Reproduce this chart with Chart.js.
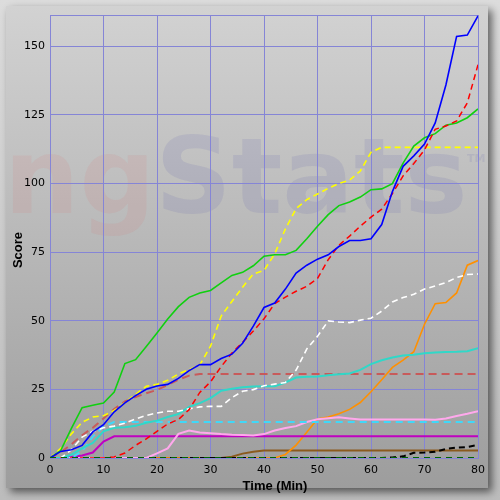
<!DOCTYPE html>
<html>
<head>
<meta charset="utf-8">
<script src="https://cdn.jsdelivr.net/npm/chart.js@4/dist/chart.umd.min.js"></script>
<style>
  html, body { margin: 0; padding: 0; background: #d6d6d6; }
  canvas { display: block; }
</style>
</head>
<body>
<canvas id="chart" width="500" height="500"></canvas>
<script>
// Score over time, sampled every 2 minutes
const minutes = [0,2,4,6,8,10,12,14,16,18,20,22,24,26,28,30,32,34,36,38,40,42,44,46,48,50,52,54,56,58,60,62,64,66,68,70,72,74,76,78,80];
const xTicks = [0,10,20,30,40,50,60,70,80];
const yTicks = [0,25,50,75,100,125,150];
const yMax = 161.3;

const blueScores = [0,2.4,3,4.6,9.5,12.1,16.8,20.1,22.7,25,26.2,26.8,29,31.8,34,34,36.2,37.8,41.8,48,54.8,56.4,61.5,67.3,70.2,72.4,74,77,79.2,79.2,79.8,85,97,106.2,110,114.3,122,135.8,153.5,154,161];
const redScores = [0,0,0,0,0,0,0.4,1.8,4.6,7,9.7,12.4,14,17.6,23.9,27.7,33.3,38.2,42.1,46.2,50.7,56.2,58.6,60.7,62.5,65.4,72.2,77.5,80.8,84.4,87.7,90.6,96.3,102.7,107.2,112.2,119.7,120.9,122.7,129.3,143.2];
const greenScores = [0,2.7,10.8,18.3,19.2,20,24,34.4,35.8,40.6,45.5,50.6,55.1,58.5,60.1,61,63.8,66.5,67.6,70,73.5,74,74,75.6,79.8,84.4,88.6,91.9,93.2,95,97.7,98,99.9,107.4,113.6,116.6,118.1,121.2,122,123.9,127.1];
const yellowScores = [0,3.5,8.8,13,14.9,15.4,17.3,20.2,23.2,26.1,26.8,28.3,30.6,32.2,33.9,40.7,51.7,57,62.2,67,68.3,74.3,83.4,90.8,94.1,96.1,98.2,100,101.2,104.5,111.3,113.1,113.1,113.1,113.1,113.1,113.1,113.1,113.1,113.1,113.1];
const orangeScores = [0,0,0,0,0,0,0,0,0,0,0,0,0,0,0,0,0,0,0,0,0,0,1.3,4.7,9.4,14.2,14.9,16.1,17.7,20.2,24.1,28.5,33,35.6,38.7,48.7,56.2,56.6,60.1,70.2,71.9];
const whiteScores = [0,0,3,7.6,9.7,11,11.6,12.7,14.2,15.5,16.4,17,17,17.9,18.6,18.8,18.8,22,24.3,24.9,26.3,26.9,27.5,32,39.7,44.3,49.9,49.5,49.3,50.2,50.9,53.5,56.8,58.4,59.6,61.5,62.6,63.9,65.7,66.8,67];
const turquoiseScores = [0,0,1.2,3.5,5.5,9.7,11,11.2,11.7,12.8,13.6,14.9,16,18.6,20,21.8,24.5,25.2,25.8,26,26.1,26.1,27.5,29.3,29.6,29.7,30.1,30.5,30.8,32.1,34.2,35.6,36.6,37.3,37.6,38.1,38.4,38.6,38.7,38.9,40];
const indianRedScores = [0,2.1,5,8.3,11,14.4,17.8,20.6,22.2,23.6,24.8,26.6,28.5,30,30.6,30.6,30.6,30.6,30.6,30.6,30.6,30.6,30.6,30.6,30.6,30.6,30.6,30.6,30.6,30.6,30.6,30.6,30.6,30.6,30.6,30.6,30.6,30.6,30.6,30.6,30.6];
const cyanScores = [0,0,0,2.5,7.8,11.5,13.1,13.1,13.1,13.1,13.1,13.1,13.1,13.1,13.1,13.1,13.1,13.1,13.1,13.1,13.1,13.1,13.1,13.1,13.1,13.1,13.1,13.1,13.1,13.1,13.1,13.1,13.1,13.1,13.1,13.1,13.1,13.1,13.1,13.1,13.1];
const magentaScores = [0,0,0.4,0.9,2,6,7.9,7.9,7.9,7.9,7.9,7.9,7.9,7.9,7.9,7.9,7.9,7.9,7.9,7.9,7.9,7.9,7.9,7.9,7.9,7.9,7.9,7.9,7.9,7.9,7.9,7.9,7.9,7.9,7.9,7.9,7.9,7.9,7.9,7.9,7.9];
const pinkScores = [0,0,0,0,0,0,0,0,0,0,1.7,3.5,8.8,10,9.3,9,8.7,8.5,8.4,8.2,8.7,10,10.9,11.6,13.1,14.1,14.5,14.8,14.4,14,14,14,14,14,14,14,13.9,14.4,15.3,16.1,17];
const brownScores = [0,0,0,0,0,0,0,0,0,0,0,0,0,0,0,0,0,0.5,1.6,2.3,2.7,2.7,2.7,2.7,2.7,2.7,2.7,2.7,2.7,2.7,2.7,2.7,2.7,2.7,2.7,2.7,2.7,2.7,2.7,2.7,2.7];
const blackScores = [0,0,0,0,0,0,0,0,0,0,0,0,0,0,0,0,0,0,0,0,0,0,0,0,0,0,0,0,0,0,0,0,0.2,0.6,1.9,2,2.3,3.3,3.8,4,4.8];
const darkGreenScores = minutes.map(() => 0);

const gridColor = '#8585d6';

function series(values, color, width, dash, order) {
    return {
        data: minutes.map((t, i) => ({ x: t, y: values[i] })),
        borderColor: color,
        borderWidth: width,
        borderDash: dash || [],
        pointRadius: 0,
        tension: 0,
        fill: false,
        order: order || 0
    };
}

// frame, panel gradient and the faint watermark behind the grid
const backdrop = {
    id: 'backdrop',
    beforeDraw(chart) {
        const ctx = chart.ctx;
        ctx.save();
        const outer = ctx.createLinearGradient(0, 0, 0, 500);
        outer.addColorStop(0, '#dcdcdc');
        outer.addColorStop(1, '#bcbcbc');
        ctx.fillStyle = outer;
        ctx.fillRect(0, 0, 500, 500);

        ctx.shadowColor = 'rgba(0,0,0,0.55)';
        ctx.shadowBlur = 8;
        ctx.shadowOffsetX = 4;
        ctx.shadowOffsetY = 4;
        const panel = ctx.createLinearGradient(0, 6, 0, 488);
        panel.addColorStop(0, '#d2d2d2');
        panel.addColorStop(1, '#9d9d9d');
        ctx.fillStyle = panel;
        ctx.fillRect(6, 6, 482, 482);
        ctx.shadowColor = 'transparent';

        ctx.font = 'bold 106px "DejaVu Sans"';
        ctx.textBaseline = 'alphabetic';
        ctx.fillStyle = 'rgba(225,95,95,0.10)';
        ctx.fillText('ng', 4, 213);
        const ngWidth = ctx.measureText('ng').width;
        ctx.fillStyle = 'rgba(80,80,175,0.12)';
        ctx.fillText('Stats', 4 + ngWidth, 213);
        ctx.font = 'bold 11px "DejaVu Sans"';
        ctx.fillText('TM', 467, 162);
        ctx.restore();
    },
    beforeDatasetsDraw(chart) {
        const { ctx, chartArea: a } = chart;
        ctx.save();
        ctx.strokeStyle = gridColor;
        ctx.lineWidth = 1;
        ctx.beginPath();
        ctx.moveTo(a.left, a.top + 0.5);
        ctx.lineTo(a.right, a.top + 0.5);
        ctx.stroke();
        ctx.restore();
    },
    afterDraw(chart) {
        const ctx = chart.ctx;
        ctx.save();
        ctx.fillStyle = '#000';
        ctx.font = 'bold 13px "Liberation Sans", Arial';
        ctx.textAlign = 'center';
        ctx.textBaseline = 'middle';
        ctx.fillText('Time (Min)', 275, 486);
        ctx.translate(18, 250);
        ctx.rotate(-Math.PI / 2);
        ctx.fillText('Score', 0, 0);
        ctx.restore();
    }
};

new Chart(document.getElementById('chart'), {
    type: 'line',
    data: {
        datasets: [
            series(darkGreenScores, '#006400', 2, [6, 5], -1),
            series(blueScores, '#0000ff', 1.6),
            series(redScores, '#ff0000', 1.5, [6, 4]),
            series(greenScores, '#10d010', 1.6),
            series(yellowScores, '#ffff00', 1.6, [6, 4]),
            series(whiteScores, '#ffffff', 1.6, [6, 4]),
            series(turquoiseScores, '#30d8c8', 2),
            series(indianRedScores, '#c85a5a', 2, [8, 5]),
            series(cyanScores, '#40d8f8', 2, [7, 5]),
            series(pinkScores, '#ffa8ec', 2),
            series(magentaScores, '#c000c0', 2),
            series(blackScores, '#000000', 2, [6, 4]),
            series(orangeScores, '#ff9000', 1.6),
            series(brownScores, '#8b5a1e', 2)
        ]
    },
    options: {
        responsive: false,
        animation: false,
        layout: { padding: { top: 15, right: 22, left: 0, bottom: 0 } },
        plugins: {
            legend: { display: false },
            tooltip: { enabled: false }
        },
        scales: {
            x: {
                type: 'linear',
                min: 0,
                max: 80,
                afterBuildTicks: s => { s.ticks = xTicks.map(v => ({ value: v })); },
                afterFit: s => { s.height = 42; },
                grid: { color: gridColor, drawTicks: false },
                border: { color: gridColor },
                ticks: {
                    color: '#000',
                    padding: 6,
                    font: { family: 'DejaVu Sans', size: 11 }
                }
            },
            y: {
                min: 0,
                max: yMax,
                afterBuildTicks: s => { s.ticks = yTicks.map(v => ({ value: v })); },
                afterFit: s => { s.width = 50; },
                grid: { color: gridColor, drawTicks: false },
                border: { color: gridColor },
                ticks: {
                    color: '#000',
                    padding: 5,
                    font: { family: 'DejaVu Sans', size: 11 }
                }
            }
        }
    },
    plugins: [backdrop]
});
</script>
</body>
</html>
